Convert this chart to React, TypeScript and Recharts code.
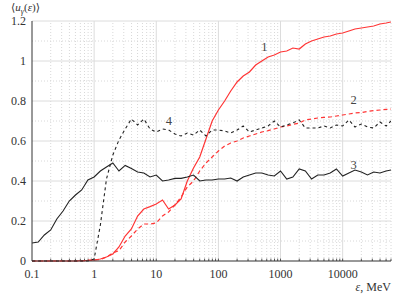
import { LineChart, Line, XAxis, YAxis, Label, ReferenceDot, ReferenceLine } from "recharts";

// energy grid, MeV (10 points per decade)
const energies = [
    0.1, 0.126, 0.158, 0.2, 0.251, 0.316, 0.398, 0.501, 0.631, 0.794,
    1, 1.26, 1.58, 2, 2.51, 3.16, 3.98, 5.01, 6.31, 7.94,
    10, 12.6, 15.8, 20, 25.1, 31.6, 39.8, 50.1, 63.1, 79.4,
    100, 126, 158, 200, 251, 316, 398, 501, 631, 794,
    1000, 1260, 1580, 2000, 2510, 3160, 3980, 5010, 6310, 7940,
    10000, 12600, 15800, 20000, 25100, 31600, 39800, 50100, 60000,
];

const curve1 = [
    0, 0, 0, 0, 0, 0, 0, 0, 0.002, 0.003,
    0.005, 0.01, 0.02, 0.035, 0.07, 0.125, 0.16, 0.225, 0.26, 0.272,
    0.285, 0.305, 0.26, 0.28, 0.31, 0.4, 0.465, 0.52, 0.61, 0.7,
    0.755, 0.8, 0.85, 0.895, 0.925, 0.945, 0.98, 1.0, 1.02, 1.03,
    1.045, 1.05, 1.065, 1.06, 1.085, 1.1, 1.11, 1.12, 1.125, 1.135,
    1.14, 1.15, 1.16, 1.165, 1.17, 1.175, 1.185, 1.19, 1.195,
];

const curve2 = [
    0, 0, 0, 0, 0, 0, 0, 0, 0, 0.003,
    0.005, 0.008, 0.02, 0.04, 0.052, 0.095, 0.125, 0.16, 0.185, 0.185,
    0.19, 0.225, 0.245, 0.28, 0.32, 0.37, 0.4, 0.45, 0.49, 0.52,
    0.55, 0.575, 0.59, 0.6, 0.615, 0.625, 0.635, 0.645, 0.652, 0.66,
    0.67, 0.675, 0.683, 0.69, 0.705, 0.71, 0.715, 0.718, 0.72, 0.725,
    0.73, 0.735, 0.74, 0.742, 0.748, 0.752, 0.755, 0.758, 0.76,
];

const curve3 = [
    0.09, 0.095, 0.13, 0.155, 0.21, 0.25, 0.3, 0.33, 0.355, 0.405,
    0.42, 0.45, 0.47, 0.49, 0.45, 0.478, 0.462, 0.445, 0.44, 0.42,
    0.43, 0.4, 0.405, 0.413, 0.413, 0.42, 0.43, 0.4, 0.405, 0.405,
    0.41, 0.41, 0.415, 0.4, 0.42, 0.43, 0.44, 0.44, 0.43, 0.425,
    0.45, 0.41, 0.42, 0.46, 0.45, 0.41, 0.43, 0.43, 0.44, 0.46,
    0.425, 0.44, 0.455, 0.445, 0.43, 0.445, 0.44, 0.45, 0.455,
];

const curve4 = [
    0, 0, 0, 0, 0, 0, 0, 0, 0, 0,
    0.01, 0.18, 0.41, 0.53, 0.605, 0.66, 0.71, 0.68, 0.71, 0.66,
    0.645, 0.66, 0.655, 0.635, 0.625, 0.64, 0.63, 0.655, 0.625, 0.655,
    0.655, 0.65, 0.64, 0.655, 0.675, 0.645, 0.655, 0.665, 0.675, 0.7,
    0.67, 0.68, 0.69, 0.705, 0.665, 0.665, 0.665, 0.675, 0.665, 0.68,
    0.675, 0.705, 0.67, 0.685, 0.67, 0.665, 0.695, 0.675, 0.7,
];

const xTicks = [0.1, 1, 10, 100, 1000, 10000];
const yTicks = [0, 0.2, 0.4, 0.6, 0.8, 1, 1.2];
const xMinor = [
    0.2, 0.3, 0.4, 0.5, 0.6, 0.7, 0.8, 0.9,
    2, 3, 4, 5, 6, 7, 8, 9,
    20, 30, 40, 50, 60, 70, 80, 90,
    200, 300, 400, 500, 600, 700, 800, 900,
    2000, 3000, 4000, 5000, 6000, 7000, 8000, 9000,
    20000, 30000, 40000, 50000, 60000,
];
const yMinor = [0.1, 0.3, 0.5, 0.7, 0.9, 1.1];

const curveLabels = [
    { name: "1", x: 550, y: 1.07 },
    { name: "2", x: 15000, y: 0.805 },
    { name: "3", x: 15000, y: 0.48 },
    { name: "4", x: 16, y: 0.7 },
];

const data = energies.map((e, i) => ({
    e,
    c1: curve1[i],
    c2: curve2[i],
    c3: curve3[i],
    c4: curve4[i],
}));

const FONT = "'Liberation Serif', 'DejaVu Serif', serif";

function XTitle(props: any) {
    const { x, y, width } = props.viewBox;
    return (
        <text x={x + width} y={y + 30} textAnchor="end" fontFamily={FONT} fontSize={12} fill="#333">
            <tspan fontStyle="italic">ε</tspan>, MeV
        </text>
    );
}

function YTitle(props: any) {
    const { x, y } = props.viewBox;
    return (
        <text x={x + 11} y={y - 10} fontFamily={FONT} fontSize={11} fill="#333">
            ⟨<tspan fontStyle="italic">u</tspan>
            <tspan fontStyle="italic" fontSize={8} dy={2.5}>γ</tspan>
            <tspan dy={-2.5}>(</tspan>
            <tspan fontStyle="italic">ε</tspan>)⟩
        </text>
    );
}

function App() {
    return (
        <div style={{ position: "absolute", left: 0, top: 0 }}>
            <LineChart width={399} height={295} data={data} margin={{ top: 21, right: 8, left: 0, bottom: 0 }}>
                <XAxis
                    dataKey="e"
                    type="number"
                    scale="log"
                    domain={[0.1, 60000]}
                    allowDataOverflow
                    ticks={xTicks}
                    tickFormatter={v => String(v)}
                    height={34}
                    tickLine={false}
                    axisLine={{ stroke: "#333" }}
                    tick={{ fill: "#333", fontSize: 12, fontFamily: FONT }}
                >
                    <Label content={XTitle} />
                </XAxis>
                <YAxis
                    type="number"
                    domain={[0, 1.2]}
                    ticks={yTicks}
                    tickFormatter={v => String(+Number(v).toFixed(1))}
                    width={32}
                    tickLine={false}
                    tickMargin={0}
                    axisLine={{ stroke: "#333" }}
                    tick={{ fill: "#333", fontSize: 12, fontFamily: FONT }}
                >
                    <Label content={YTitle} />
                </YAxis>
                {xMinor.map(v => (
                    <ReferenceLine key={"xm" + v} x={v} stroke="#d8d8d8" strokeDasharray="1 2" />
                ))}
                {yMinor.map(v => (
                    <ReferenceLine key={"ym" + v} y={v} stroke="#d8d8d8" strokeDasharray="1 2" />
                ))}
                {xTicks.slice(1).map(v => (
                    <ReferenceLine key={"xM" + v} x={v} stroke="#dcdcdc" />
                ))}
                {yTicks.slice(1).map(v => (
                    <ReferenceLine key={"yM" + v} y={v} stroke="#dcdcdc" />
                ))}
                {xMinor.concat(xTicks.slice(1)).map(v => (
                    <ReferenceLine key={"xt" + v} segment={[{ x: v, y: 0 }, { x: v, y: 0.012 }]} stroke="#555" />
                ))}
                <Line dataKey="c2" stroke="#ff3535" strokeWidth={1.2} strokeDasharray="4 3" dot={false} isAnimationActive={false} />
                <Line dataKey="c1" stroke="#ff3535" strokeWidth={1.2} dot={false} isAnimationActive={false} />
                <Line dataKey="c4" stroke="#222" strokeWidth={1.1} strokeDasharray="3 3" dot={false} isAnimationActive={false} />
                <Line dataKey="c3" stroke="#222" strokeWidth={1.1} dot={false} isAnimationActive={false} />
                {curveLabels.map(l => (
                    <ReferenceDot
                        key={l.name}
                        x={l.x}
                        y={l.y}
                        r={0}
                        shape={(p: any) => (
                            <text x={p.cx} y={p.cy} textAnchor="middle" dominantBaseline="central" fontFamily={FONT} fontSize={12.5} fill="#444">
                                {l.name}
                            </text>
                        )}
                    />
                ))}
            </LineChart>
        </div>
    );
}

export default App;
